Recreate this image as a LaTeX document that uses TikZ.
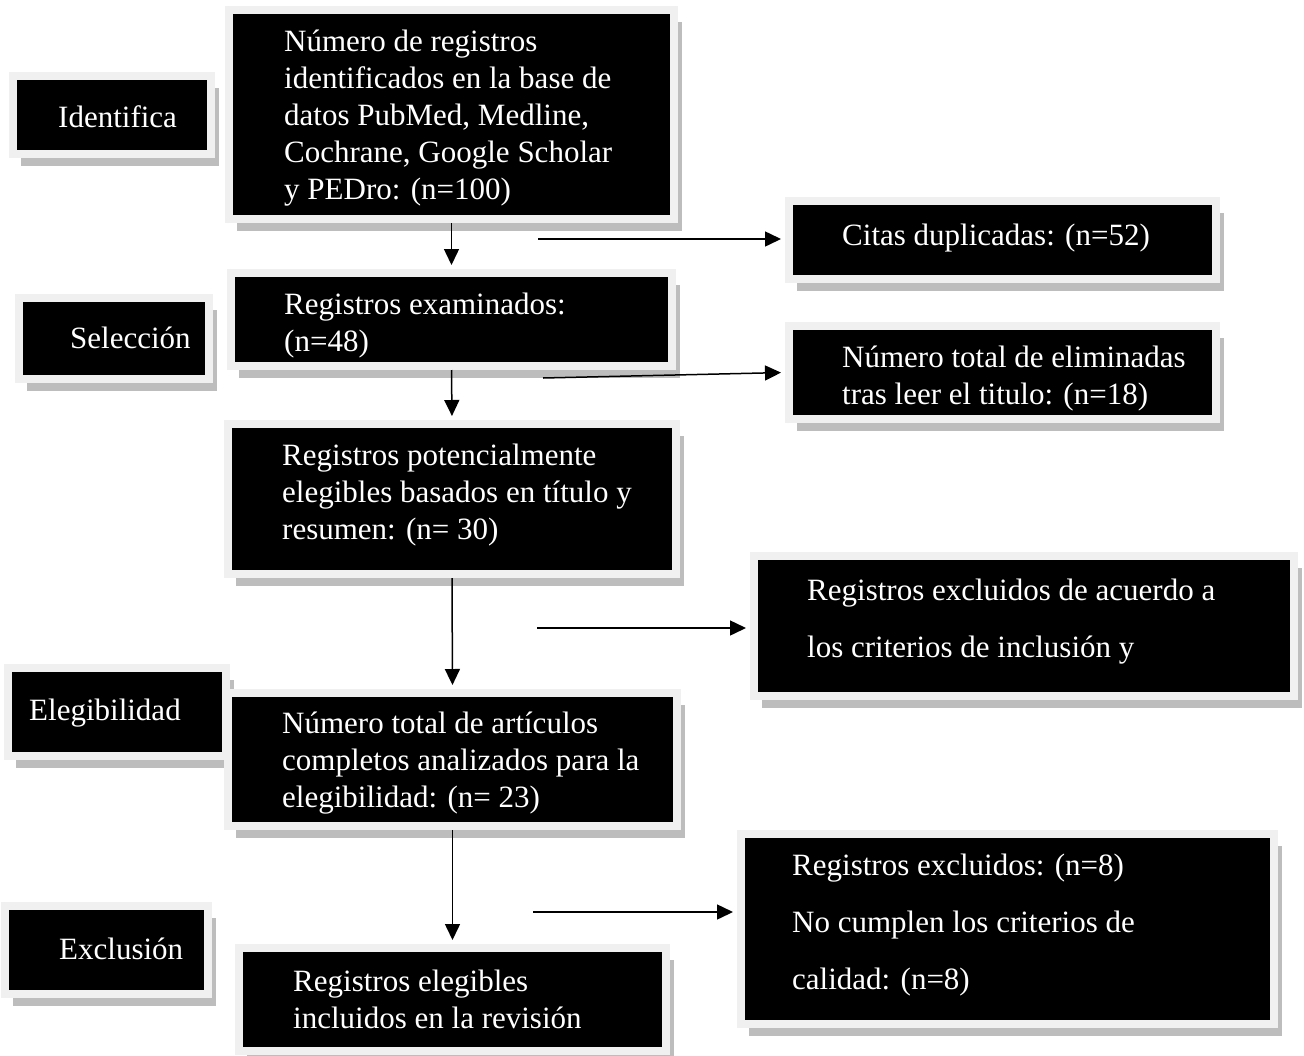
\documentclass[tikz,border=0pt]{standalone}
\usepackage{fontspec}
\setmainfont{Liberation Serif}
\usetikzlibrary{arrows.meta,shadows}
\definecolor{framec}{HTML}{F0F0F0}
\definecolor{shadowc}{HTML}{BDBDBD}
\begin{document}
\begin{tikzpicture}[x=1pt,y=-1pt,
 pbox/.style={fill=black, draw=framec, line width=8pt, inner sep=0pt,
   drop shadow={shadow xshift=8pt, shadow yshift=-12pt, fill=shadowc, opacity=1}},
 txt/.style={text=white, align=left, inner sep=0pt, font=\fontsize{31}{37}\selectfont, anchor=west},
 wide/.style={font=\fontsize{31}{57}\selectfont},
 arr/.style={-{Triangle[length=16pt,width=15pt]}, line width=1.5pt, black, shorten >=4pt}]
\useasboundingbox (0,0) rectangle (1304,1055);

% boxes
\node[pbox, minimum width=198, minimum height=78] (b0) at (112,115) {};
\node[pbox, minimum width=445, minimum height=209] (b1) at (451.5,114.5) {};
\node[pbox, minimum width=427, minimum height=78] (b3) at (1002.5,240) {};
\node[pbox, minimum width=190, minimum height=81] (bS) at (114,338.5) {};
\node[pbox, minimum width=441, minimum height=93] (b5) at (451.5,319.5) {};
\node[pbox, minimum width=427, minimum height=93] (b6) at (1002.5,372.5) {};
\node[pbox, minimum width=448, minimum height=150] (b7) at (452,499) {};
\node[pbox, minimum width=540, minimum height=140] (b8) at (1024,626) {};
\node[pbox, minimum width=218, minimum height=88] (bE) at (117,712) {};
\node[pbox, minimum width=449, minimum height=133] (b10) at (452.5,759.5) {};
\node[pbox, minimum width=203, minimum height=88] (bX) at (106.5,950) {};
\node[pbox, minimum width=427, minimum height=103] (b12) at (452.5,999.5) {};
\node[pbox, minimum width=533, minimum height=190] (b13) at (1007.5,929) {};

% texts
\node[txt] (t0) at (58,117) {Identifica};
\node[txt] (t1) at ([xshift=59pt,yshift=-4pt]b1.west) {Número de registros\\identificados en la base de\\datos PubMed, Medline,\\Cochrane, Google Scholar\\y PEDro: (n=100)};
\node[txt] (t3) at ([xshift=57pt,yshift=2pt]b3.west) {Citas duplicadas: (n=52)};
\node[txt] (tS) at (70,338) {Selección};
\node[txt] (t5) at ([xshift=57pt,yshift=-6pt]b5.west) {Registros examinados:\\(n=48)};
\node[txt] (t6) at ([xshift=57pt,yshift=-6pt]b6.west) {Número total de eliminadas\\tras leer el titulo: (n=18)};
\node[txt] (t7) at ([xshift=58pt,yshift=4pt]b7.west) {Registros potencialmente\\elegibles basados en título y\\resumen: (n= 30)};
\node[txt, wide] (t8) at ([xshift=57pt,yshift=4pt]b8.west) {Registros excluidos de acuerdo a\\los criterios de inclusión y};
\node[txt] (tE) at (29,713) {Elegibilidad};
\node[txt] (t10) at ([xshift=58pt,yshift=-4pt]b10.west) {Número total de artículos\\completos analizados para la\\elegibilidad: (n= 23)};
\node[txt] (tX) at (59,949) {Exclusión};
\node[txt] (t12) at ([xshift=58pt]b12.west) {Registros elegibles\\incluidos en la revisión};
\node[txt, wide] (t13) at ([xshift=55pt,yshift=4pt]b13.west) {Registros excluidos: (n=8)\\No cumplen los criterios de\\calidad: (n=8)};

% connectors
\draw[arr] (b1.south) -- (b5.north);
\draw[arr] (b5.south) -- (b7.north);
\draw[arr] (b7.south) -- (b10.north);
\draw[arr] (b10.south) -- (b12.north);

\coordinate (s1) at (538,239);
\coordinate (s2) at (543,378);
\coordinate (s3) at (537,628);
\coordinate (s4) at (533,912);
\draw[arr] (s1) -- (s1 -| b3.west);
\draw[arr] (s2) -- (b6.west);
\draw[arr] (s3) -- (s3 -| b8.west);
\draw[arr] (s4) -- (s4 -| b13.west);
\end{tikzpicture}
\end{document}
